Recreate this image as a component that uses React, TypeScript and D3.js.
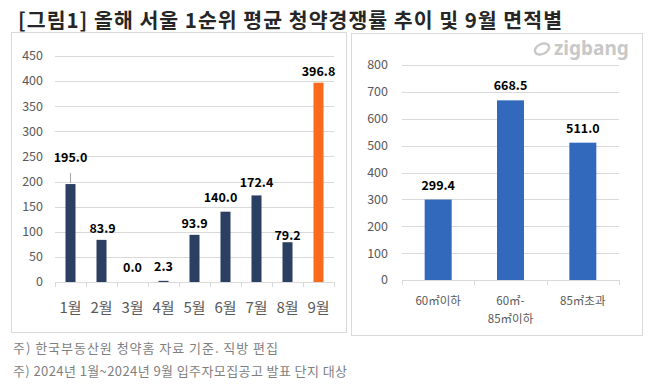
import React, { useEffect, useRef } from "react";
import * as d3 from "d3";

const months = ["1월", "2월", "3월", "4월", "5월", "6월", "7월", "8월", "9월"];
const monthValues = [195.0, 83.9, 0.0, 2.3, 93.9, 140.0, 172.4, 79.2, 396.8];
const monthTicks = [0, 50, 100, 150, 200, 250, 300, 350, 400, 450];

const areas = [["60㎡이하"], ["60㎡-", "85㎡이하"], ["85㎡초과"]];
const areaValues = [299.4, 668.5, 511.0];
const areaTicks = [0, 100, 200, 300, 400, 500, 600, 700, 800];

const notes = [
  "주) 한국부동산원 청약홈 자료 기준. 직방 편집",
  "주) 2024년 1월~2024년 9월 입주자모집공고 발표 단지 대상",
];
const noteWidths = [265, 334];

const FONT = "'Noto Sans CJK KR', 'Noto Sans', sans-serif";

function drawMonthly(svg: d3.Selection<SVGSVGElement, unknown, null, undefined>) {
  const g = svg.append("g");
  // panel border
  g.append("rect")
    .attr("x", 11.5).attr("y", 32.5).attr("width", 335).attr("height", 300)
    .attr("fill", "#fff").attr("stroke", "#d9d9d9");

  const x = d3.scaleBand().domain(months).range([55, 334]);
  const y = d3.scaleLinear().domain([0, 450]).range([282, 56]);

  g.selectAll(".grid").data(monthTicks.slice(1)).enter().append("line")
    .attr("x1", 55).attr("x2", 334)
    .attr("y1", (d) => Math.round(y(d)) + 0.5).attr("y2", (d) => Math.round(y(d)) + 0.5)
    .attr("stroke", "#d9d9d9");

  g.selectAll(".tick").data(monthTicks).enter().append("text")
    .attr("x", 43).attr("y", (d) => y(d)).attr("dy", "0.35em")
    .attr("text-anchor", "end").attr("font-size", 12.5).attr("fill", "#595959")
    .attr("font-family", FONT).text((d) => d);

  // axis line with tick marks
  g.append("line").attr("x1", 55).attr("x2", 334)
    .attr("y1", 282.5).attr("y2", 282.5).attr("stroke", "#d9d9d9");
  g.selectAll(".tm").data(months.concat(["end"])).enter().append("line")
    .attr("x1", (d, i) => Math.round(55 + i * x.bandwidth()) + 0.5)
    .attr("x2", (d, i) => Math.round(55 + i * x.bandwidth()) + 0.5)
    .attr("y1", 282).attr("y2", 287).attr("stroke", "#d9d9d9");

  const barW = 10;
  g.selectAll(".bar").data(monthValues).enter().append("rect")
    .attr("x", (d, i) => x(months[i])! + x.bandwidth() / 2 - barW / 2)
    .attr("y", (d) => y(d)).attr("width", barW)
    .attr("height", (d) => 282 - y(d))
    .attr("fill", (d, i) => (i === months.length - 1 ? "#fa6a1c" : "#2a3f62"));

  // leader line for Jan
  g.append("line")
    .attr("x1", x(months[0])! + x.bandwidth() / 2).attr("x2", x(months[0])! + x.bandwidth() / 2)
    .attr("y1", y(monthValues[0]) - 1).attr("y2", y(monthValues[0]) - 11)
    .attr("stroke", "#a6a6a6");

  const labelShift = [0, 1, 0, 0, 0, -5, 0, 0, 0];
  const labelLift = [22, 7, 10, 10, 7, 10, 8, 2, 7];
  g.selectAll(".lbl").data(monthValues).enter().append("text")
    .attr("x", (d, i) => x(months[i])! + x.bandwidth() / 2 + labelShift[i])
    .attr("y", (d, i) => y(d) - labelLift[i])
    .attr("text-anchor", "middle").attr("font-size", 12.5).attr("font-weight", "bold")
    .attr("fill", "#000").attr("font-family", FONT)
    .text((d) => d.toFixed(1));

  g.selectAll(".cat").data(months).enter().append("text")
    .attr("x", (d) => x(d)! + x.bandwidth() / 2).attr("y", 313)
    .attr("text-anchor", "middle").attr("font-size", 15).attr("fill", "#595959")
    .attr("font-family", FONT).text((d) => d);
}

function drawArea(svg: d3.Selection<SVGSVGElement, unknown, null, undefined>) {
  const g = svg.append("g");
  g.append("rect")
    .attr("x", 351.5).attr("y", 33.5).attr("width", 291).attr("height", 302)
    .attr("fill", "#fff").attr("stroke", "#d9d9d9");

  // logo
  const logo = g.append("g").attr("transform", "translate(542,49)");
  logo.append("ellipse").attr("cx", 0).attr("cy", 0).attr("rx", 7.5).attr("ry", 5)
    .attr("transform", "rotate(-25)").attr("fill", "none")
    .attr("stroke", "#c8c8c8").attr("stroke-width", 2.4);
  g.append("text").attr("x", 554).attr("y", 55)
    .attr("font-size", 19).attr("font-weight", "bold").attr("fill", "#c8c8c8")
    .attr("font-family", "'Noto Sans', sans-serif").text("zigbang");

  const labels = areas.map((a) => a.join(" "));
  const x = d3.scaleBand().domain(labels).range([402, 619]);
  const y = d3.scaleLinear().domain([0, 800]).range([280, 65]);

  g.selectAll(".grid").data(areaTicks.slice(1)).enter().append("line")
    .attr("x1", 402).attr("x2", 619)
    .attr("y1", (d) => Math.round(y(d)) + 0.5).attr("y2", (d) => Math.round(y(d)) + 0.5)
    .attr("stroke", "#d9d9d9");

  g.selectAll(".tick").data(areaTicks).enter().append("text")
    .attr("x", 388).attr("y", (d) => y(d)).attr("dy", "0.35em")
    .attr("text-anchor", "end").attr("font-size", 12.5).attr("fill", "#595959")
    .attr("font-family", FONT).text((d) => d);

  g.append("line").attr("x1", 402).attr("x2", 619)
    .attr("y1", 280.5).attr("y2", 280.5).attr("stroke", "#d9d9d9");
  g.selectAll(".tm").data([0, 1, 2, 3]).enter().append("line")
    .attr("x1", (d) => Math.round(402 + d * x.bandwidth()) + 0.5)
    .attr("x2", (d) => Math.round(402 + d * x.bandwidth()) + 0.5)
    .attr("y1", 280).attr("y2", 285).attr("stroke", "#d9d9d9");

  const barW = 27;
  g.selectAll(".bar").data(areaValues).enter().append("rect")
    .attr("x", (d, i) => x(labels[i])! + x.bandwidth() / 2 - barW / 2)
    .attr("y", (d) => y(d)).attr("width", barW)
    .attr("height", (d) => 280 - y(d)).attr("fill", "#3369bd");

  g.selectAll(".lbl").data(areaValues).enter().append("text")
    .attr("x", (d, i) => x(labels[i])! + x.bandwidth() / 2)
    .attr("y", (d) => y(d) - 10)
    .attr("text-anchor", "middle").attr("font-size", 12.5).attr("font-weight", "bold")
    .attr("fill", "#000").attr("font-family", FONT)
    .text((d) => d.toFixed(1));

  areas.forEach((lines, i) => {
    const t = g.append("text")
      .attr("x", x(labels[i])! + x.bandwidth() / 2).attr("y", 305)
      .attr("text-anchor", "middle").attr("font-size", 11.5).attr("fill", "#595959")
      .attr("font-family", FONT);
    lines.forEach((l, j) => {
      t.append("tspan").attr("x", x(labels[i])! + x.bandwidth() / 2)
        .attr("dy", j === 0 ? 0 : 18).text(l);
    });
  });
}

export default function App() {
  const ref = useRef<SVGSVGElement>(null);

  useEffect(() => {
    if (!ref.current) return;
    const svg = d3.select(ref.current);
    svg.selectAll("*").remove();

    svg.append("rect").attr("width", 654).attr("height", 388).attr("fill", "#fff");

    svg.append("text").attr("x", 18).attr("y", 28)
      .attr("font-size", 20.5).attr("font-weight", "bold").attr("fill", "#262626")
      .attr("font-family", FONT)
      .attr("textLength", 544).attr("lengthAdjust", "spacing")
      .text("[그림1] 올해 서울 1순위 평균 청약경쟁률 추이 및 9월 면적별");

    drawMonthly(svg);
    drawArea(svg);

    svg.selectAll(".note").data(notes).enter().append("text")
      .attr("x", 13).attr("y", (d, i) => 353 + i * 23)
      .attr("font-size", 13).attr("fill", "#7f7f7f")
      .attr("font-family", FONT)
      .attr("textLength", (d, i) => noteWidths[i]).attr("lengthAdjust", "spacing")
      .text((d) => d);
  }, []);

  return (
    <svg ref={ref} width={654} height={388}
      style={{ position: "absolute", left: 0, top: 0, display: "block" }} />
  );
}
